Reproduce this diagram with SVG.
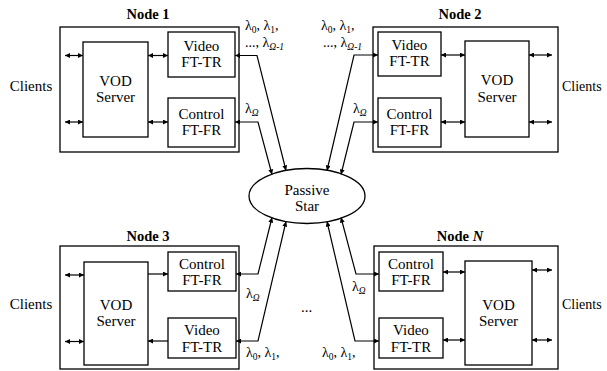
<svg xmlns="http://www.w3.org/2000/svg" width="607" height="371" viewBox="0 0 607 371">
<defs>
<style>
.box{fill:none;stroke:#000;stroke-width:1.3}
.t{font-family:"Liberation Serif","Times New Roman",serif;font-size:15px;fill:#000;text-anchor:middle}
.ttl{font-family:"Liberation Serif","Times New Roman",serif;font-size:14.5px;font-weight:bold;fill:#000;text-anchor:middle}
.lab{font-family:"Liberation Serif","Times New Roman",serif;font-size:14px;fill:#000}
.sub{font-size:9.5px}
.it{font-style:italic}
.ln{fill:none;stroke:#000;stroke-width:1.2;marker-start:url(#ah);marker-end:url(#ah)}
.one{fill:none;stroke:#000;stroke-width:1.2;marker-end:url(#ah)}
</style>
<marker id="ah" viewBox="0 0 6 6" refX="6" refY="3" markerWidth="6" markerHeight="5" markerUnits="userSpaceOnUse" orient="auto-start-reverse">
<path d="M0,0L6,3L0,6z" fill="#000"/>
</marker>
</defs>
<rect width="607" height="371" fill="#fff"/>

<g id="node1">
<rect class="box" x="60" y="27" width="179" height="125"/>
<text class="ttl" x="148" y="19">Node 1</text>
<rect id="n1-server" class="box" x="83" y="42" width="65" height="95"/>
<text class="t" x="115.5" y="85.5">VOD</text>
<text class="t" x="115.5" y="102">Server</text>
<rect id="n1-video" class="box" x="168" y="32" width="67" height="45"/>
<text class="t" x="201.5" y="50.5">Video</text>
<text class="t" x="201.5" y="66.5">FT-TR</text>
<rect id="n1-control" class="box" x="168" y="98" width="67" height="49"/>
<text class="t" x="201.5" y="118.5">Control</text>
<text class="t" x="201.5" y="135">FT-FR</text>
<text class="t" x="31" y="91">Clients</text>
</g>

<g id="node2">
<rect class="box" x="373" y="27" width="185" height="125"/>
<text class="ttl" x="460" y="19">Node 2</text>
<rect id="n2-video" class="box" x="378" y="32" width="63" height="44"/>
<text class="t" x="409.5" y="50">Video</text>
<text class="t" x="409.5" y="66">FT-TR</text>
<rect id="n2-control" class="box" x="378" y="98" width="63" height="49"/>
<text class="t" x="409.5" y="118.5">Control</text>
<text class="t" x="409.5" y="135">FT-FR</text>
<rect id="n2-server" class="box" x="465" y="41" width="64" height="96"/>
<text class="t" x="497" y="85">VOD</text>
<text class="t" x="497" y="101.5">Server</text>
<text class="lab" x="562" y="91" font-size="15">Clients</text>
</g>

<g id="node3">
<rect class="box" x="60" y="246" width="179" height="123"/>
<text class="ttl" x="148" y="241">Node 3</text>
<rect id="n3-server" class="box" x="84" y="262" width="64" height="103"/>
<text class="t" x="116" y="309.5">VOD</text>
<text class="t" x="116" y="326">Server</text>
<rect id="n3-control" class="box" x="168" y="252" width="68" height="39"/>
<text class="t" x="202" y="268.5">Control</text>
<text class="t" x="202" y="285">FT-FR</text>
<rect id="n3-video" class="box" x="168" y="318" width="68" height="40"/>
<text class="t" x="202" y="335">Video</text>
<text class="t" x="202" y="351.5">FT-TR</text>
<text class="t" x="31" y="309">Clients</text>
</g>

<g id="nodeN">
<rect class="box" x="374" y="246" width="184" height="123"/>
<text class="ttl" x="460" y="241">Node <tspan class="it">N</tspan></text>
<rect id="nN-control" class="box" x="379" y="252" width="64" height="39"/>
<text class="t" x="411" y="268.5">Control</text>
<text class="t" x="411" y="285">FT-FR</text>
<rect id="nN-video" class="box" x="379" y="318" width="64" height="40"/>
<text class="t" x="411" y="335">Video</text>
<text class="t" x="411" y="351.5">FT-TR</text>
<rect id="nN-server" class="box" x="465" y="261" width="67" height="104"/>
<text class="t" x="498.5" y="309.5">VOD</text>
<text class="t" x="498.5" y="326">Server</text>
<text class="lab" x="562" y="309" font-size="15">Clients</text>
</g>

<g id="star">
<ellipse class="box" cx="307" cy="196" rx="58" ry="27.5"/>
<text class="t" x="307" y="194.5">Passive</text>
<text class="t" x="307" y="211">Star</text>
</g>

<g id="connectors">
<line class="ln" x1="65" y1="55.5" x2="83" y2="55.5"/>
<line class="ln" x1="65" y1="122" x2="83" y2="122"/>
<line class="ln" x1="148" y1="55.5" x2="168" y2="55.5"/>
<line class="ln" x1="148" y1="122" x2="168" y2="122"/>
<polyline class="ln" points="235,55.5 257,55.5 286,170.5"/>
<polyline class="ln" points="235,122 258,122 272,174.5"/>
<line class="ln" x1="529" y1="55" x2="552" y2="55"/>
<line class="ln" x1="529" y1="122" x2="552" y2="122"/>
<line class="ln" x1="441" y1="55" x2="465" y2="55"/>
<line class="ln" x1="441" y1="122" x2="465" y2="122"/>
<polyline class="ln" points="378,55 354,55 327,170.5"/>
<polyline class="ln" points="378,122 354,122 341,174.5"/>
<line class="ln" x1="65" y1="275" x2="84" y2="275"/>
<line class="ln" x1="65" y1="341.5" x2="84" y2="341.5"/>
<line class="one" x1="148" y1="274" x2="168" y2="274"/>
<line class="one" x1="168" y1="341" x2="148" y2="341"/>
<polyline class="ln" points="236,274 258,274 272,217.5"/>
<polyline class="ln" points="236,341 258,341 286,221.5"/>
<line class="ln" x1="532" y1="270" x2="552" y2="270"/>
<line class="ln" x1="532" y1="340" x2="552" y2="340"/>
<line class="ln" x1="443" y1="272" x2="465" y2="272"/>
<line class="ln" x1="443" y1="340" x2="465" y2="340"/>
<polyline class="ln" points="379,274 356,274 341,217.5"/>
<polyline class="ln" points="379,341 355,341 327,221.5"/>
</g>

<g id="labels">
<text class="lab" x="245" y="30">λ<tspan class="sub" dy="2.5">0</tspan><tspan dy="-2.5">, λ</tspan><tspan class="sub" dy="2.5">1</tspan><tspan dy="-2.5">,</tspan></text>
<text class="lab" x="245" y="47">..., λ<tspan class="sub it" dy="2.5">Ω-1</tspan></text>
<text class="lab" x="245" y="113">λ<tspan class="sub it" dy="2.5">Ω</tspan></text>
<text class="lab" x="321" y="30">λ<tspan class="sub" dy="2.5">0</tspan><tspan dy="-2.5">, λ</tspan><tspan class="sub" dy="2.5">1</tspan><tspan dy="-2.5">,</tspan></text>
<text class="lab" x="323" y="47">..., λ<tspan class="sub it" dy="2.5">Ω-1</tspan></text>
<text class="lab" x="353" y="113">λ<tspan class="sub it" dy="2.5">Ω</tspan></text>
<text class="lab" x="246" y="298">λ<tspan class="sub it" dy="2.5">Ω</tspan></text>
<text class="lab" x="246" y="357">λ<tspan class="sub" dy="2.5">0</tspan><tspan dy="-2.5">, λ</tspan><tspan class="sub" dy="2.5">1</tspan><tspan dy="-2.5">,</tspan></text>
<text class="lab" x="352" y="291">λ<tspan class="sub it" dy="2.5">Ω</tspan></text>
<text class="lab" x="322" y="357">λ<tspan class="sub" dy="2.5">0</tspan><tspan dy="-2.5">, λ</tspan><tspan class="sub" dy="2.5">1</tspan><tspan dy="-2.5">,</tspan></text>
<text class="t" x="306.5" y="312">...</text>
</g>
</svg>
